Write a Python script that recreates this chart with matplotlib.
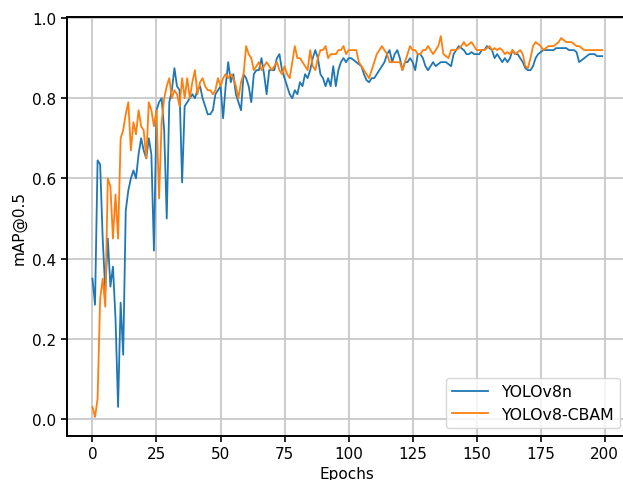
import matplotlib

matplotlib.use("Agg")
import matplotlib.pyplot as plt
import numpy as np

# ── Data ────────────────────────────────────────────────────────────────────

yolov8n = [
    0.35, 0.285, 0.645, 0.635, 0.45, 0.32, 0.45, 0.33, 0.38, 0.25,
    0.03, 0.29, 0.16, 0.52, 0.57, 0.60, 0.62, 0.60, 0.66, 0.70,
    0.67, 0.65, 0.70, 0.66, 0.42, 0.77, 0.79, 0.80, 0.72, 0.50,
    0.79, 0.82, 0.875, 0.83, 0.82, 0.59, 0.78, 0.79, 0.80, 0.81,
    0.80, 0.82, 0.83, 0.80, 0.78, 0.76, 0.76, 0.77, 0.81, 0.82,
    0.83, 0.75, 0.83, 0.89, 0.84, 0.86, 0.81, 0.79, 0.77, 0.86,
    0.85, 0.83, 0.79, 0.86, 0.87, 0.87, 0.90, 0.86, 0.81, 0.87,
    0.87, 0.87, 0.90, 0.91, 0.87, 0.85, 0.83, 0.81, 0.80, 0.82,
    0.81, 0.84, 0.83, 0.86, 0.85, 0.87, 0.90, 0.92, 0.90, 0.86,
    0.85, 0.83, 0.85, 0.83, 0.88, 0.83, 0.87, 0.89, 0.90, 0.89,
    0.90, 0.90, 0.895, 0.89, 0.885, 0.88, 0.86, 0.845, 0.84, 0.85,
    0.85, 0.86, 0.87, 0.88, 0.89, 0.91, 0.92, 0.89, 0.91, 0.92,
    0.90, 0.87, 0.89, 0.89, 0.90, 0.89, 0.87, 0.91, 0.91, 0.90,
    0.88, 0.87, 0.88, 0.89, 0.88, 0.885, 0.89, 0.89, 0.89, 0.885,
    0.88, 0.91, 0.92, 0.93, 0.925, 0.92, 0.91, 0.91, 0.915, 0.91,
    0.91, 0.91, 0.92, 0.92, 0.93, 0.925, 0.92, 0.90, 0.91, 0.90,
    0.89, 0.90, 0.89, 0.90, 0.92, 0.91, 0.91, 0.90, 0.89, 0.875,
    0.87, 0.87, 0.88, 0.90, 0.91, 0.915, 0.92, 0.92, 0.92, 0.92,
    0.92, 0.925, 0.925, 0.925, 0.925, 0.925, 0.92, 0.92, 0.92, 0.915,
    0.89, 0.895, 0.90, 0.905, 0.91, 0.91, 0.91, 0.905, 0.905, 0.905,
]

yolov8_cbam = [
    0.03, 0.005, 0.05, 0.30, 0.35, 0.28, 0.60, 0.58, 0.45, 0.56,
    0.45, 0.70, 0.72, 0.76, 0.79, 0.67, 0.74, 0.71, 0.77, 0.73,
    0.72, 0.65, 0.79, 0.77, 0.73, 0.77, 0.55, 0.74, 0.80, 0.83,
    0.85, 0.80, 0.82, 0.81, 0.78, 0.85, 0.80, 0.85, 0.80, 0.84,
    0.87, 0.81, 0.84, 0.85, 0.83, 0.82, 0.82, 0.81, 0.82, 0.85,
    0.83, 0.85, 0.86, 0.85, 0.86, 0.85, 0.83, 0.80, 0.84, 0.86,
    0.93, 0.91, 0.90, 0.87, 0.88, 0.89, 0.87, 0.88, 0.89, 0.88,
    0.87, 0.88, 0.89, 0.87, 0.86, 0.88, 0.86, 0.85, 0.89, 0.93,
    0.90, 0.90, 0.89, 0.88, 0.87, 0.92, 0.88, 0.87, 0.90, 0.92,
    0.92, 0.93, 0.90, 0.91, 0.91, 0.91, 0.92, 0.92, 0.93, 0.91,
    0.92, 0.92, 0.92, 0.92, 0.89, 0.88, 0.87, 0.86, 0.85, 0.87,
    0.89, 0.91, 0.92, 0.93, 0.92, 0.91, 0.89, 0.89, 0.89, 0.89,
    0.89, 0.87, 0.89, 0.91, 0.93, 0.92, 0.92, 0.91, 0.91, 0.92,
    0.92, 0.93, 0.92, 0.91, 0.92, 0.93, 0.955, 0.91, 0.905, 0.90,
    0.92, 0.92, 0.92, 0.925, 0.93, 0.94, 0.93, 0.935, 0.94, 0.93,
    0.92, 0.92, 0.92, 0.92, 0.925, 0.93, 0.92, 0.925, 0.92, 0.925,
    0.92, 0.91, 0.915, 0.91, 0.92, 0.91, 0.915, 0.92, 0.91, 0.88,
    0.875, 0.90, 0.93, 0.94, 0.935, 0.93, 0.92, 0.925, 0.93, 0.93,
    0.93, 0.935, 0.94, 0.95, 0.945, 0.94, 0.94, 0.94, 0.935, 0.93,
    0.93, 0.925, 0.92, 0.92, 0.92, 0.92, 0.92, 0.92, 0.92, 0.92,
]

epochs = np.arange(len(yolov8n))

# ── Plot ─────────────────────────────────────────────────────────────────────

fig = plt.figure(figsize=(6.23, 4.81), dpi=100)
ax = fig.add_axes([0.1075, 0.0915, 0.9, 0.871])

ax.plot(epochs, yolov8n, color="#1f77b4", lw=1.3, label="YOLOv8n")
ax.plot(epochs, yolov8_cbam, color="#ff7f0e", lw=1.3, label="YOLOv8-CBAM")

ax.set_xticks(range(0, 201, 25))
ax.set_yticks(np.arange(0, 1.01, 0.2))
ax.grid(True, color="#c8c8c8", lw=1.3)
ax.tick_params(labelsize=11, width=1.2, length=4)
for side in ("left", "bottom", "top"):
    ax.spines[side].set_linewidth(1.4)
ax.spines["right"].set_visible(False)

ax.set_xlabel("Epochs", fontsize=11, labelpad=3)
ax.set_ylabel("mAP@0.5", fontsize=11)
ax.legend(loc="lower right", fontsize=11.3, handlelength=2.3)

fig.savefig("out.png", dpi=100, facecolor="white")
